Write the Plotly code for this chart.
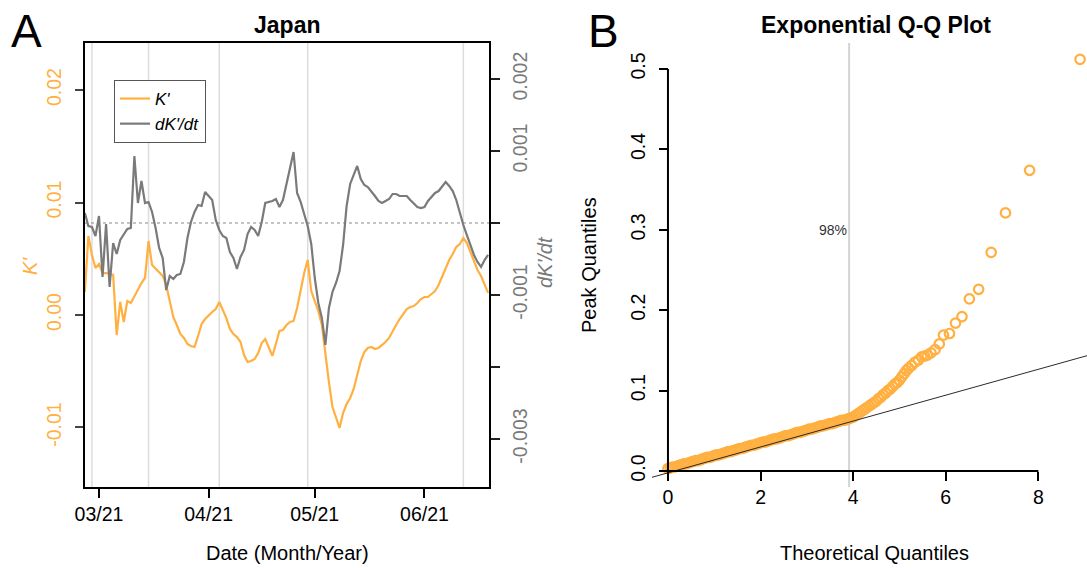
import pandas as pd
import plotly.graph_objects as go

W, H = 1087, 568
ORANGE = "#FFB040"
GRAY = "#7a7a7a"
FONT = "Liberation Sans, Arial, sans-serif"

# ---------------- Panel A: Japan, K' and dK'/dt (daily) ----------------
dates = pd.date_range("2021-02-25", "2021-06-19", freq="D")

k_prime = [
    0.00204, 0.00702, 0.00533, 0.00418, 0.00453, 0.00373, 0.00373, 0.00364, 0.00356, -0.00178,
    0.00116, -0.00062, 0.00124, 0.00107, 0.00169, 0.00222, 0.00284, 0.00329, 0.00658, 0.00444,
    0.00409, 0.00373, 0.00347, 0.00267, 0.00116, -0.00018, -0.00089, -0.00169, -0.00204, -0.00258,
    -0.00276, -0.00284, -0.00187, -0.00080, -0.00036, 0.00000, 0.00027, 0.00053, 0.00116, 0.00044,
    -0.00027, -0.00124, -0.00169, -0.00196, -0.00240, -0.00356, -0.00418, -0.00409, -0.00391, -0.00338,
    -0.00249, -0.00213, -0.00284, -0.00364, -0.00258, -0.00142, -0.00133, -0.00089, -0.00062, -0.00053,
    0.00062, 0.00213, 0.00373, 0.00489, 0.00213, 0.00124, 0.00036, -0.00089, -0.00356, -0.00596,
    -0.00818, -0.00916, -0.01004, -0.00871, -0.00791, -0.00738, -0.00658, -0.00533, -0.00409, -0.00329,
    -0.00293, -0.00284, -0.00302, -0.00293, -0.00267, -0.00240, -0.00204, -0.00142, -0.00089, -0.00036,
    0.00009, 0.00053, 0.00071, 0.00080, 0.00107, 0.00142, 0.00160, 0.00160, 0.00187, 0.00213,
    0.00267, 0.00347, 0.00427, 0.00489, 0.00542, 0.00604, 0.00631, 0.00684, 0.00640, 0.00560,
    0.00489, 0.00400, 0.00347, 0.00276, 0.00196,
]

dk_dt = [
    0.000139, -0.000042, -0.000056, -0.000181, 0.000097, -0.000750, -0.000014, -0.000889, -0.000278, -0.000431,
    -0.000236, -0.000153, -0.000083, -0.000069, 0.000931, 0.000278, 0.000583, 0.000278, 0.000292, 0.000153,
    -0.000069, -0.000347, -0.000486, -0.000931, -0.000736, -0.000778, -0.000722, -0.000708, -0.000542, -0.000208,
    0.000014, 0.000153, 0.000250, 0.000236, 0.000431, 0.000375, 0.000319, 0.000042, -0.000097, -0.000181,
    -0.000208, -0.000403, -0.000486, -0.000639, -0.000472, -0.000375, -0.000153, -0.000056, -0.000097, -0.000181,
    0.000014, 0.000278, 0.000292, 0.000306, 0.000333, 0.000222, 0.000319, 0.000528, 0.000764, 0.000986,
    0.000417, 0.000292, 0.000125, -0.000042, -0.000292, -0.000764, -0.001111, -0.001319, -0.001694, -0.001181,
    -0.000958, -0.000833, -0.000667, -0.000306, 0.000236, 0.000542, 0.000667, 0.000792, 0.000611, 0.000528,
    0.000500, 0.000444, 0.000375, 0.000306, 0.000278, 0.000306, 0.000333, 0.000403, 0.000403, 0.000375,
    0.000375, 0.000375, 0.000319, 0.000264, 0.000222, 0.000208, 0.000222, 0.000306, 0.000361, 0.000417,
    0.000444, 0.000500, 0.000569, 0.000514, 0.000444, 0.000319, 0.000139, -0.000028, -0.000167, -0.000319,
    -0.000444, -0.000542, -0.000611, -0.000514, -0.000444,
]

event_dates = ["2021-02-27", "2021-03-15", "2021-04-04", "2021-04-29", "2021-06-12"]
month_ticks = ["2021-03-01", "2021-04-01", "2021-05-01", "2021-06-01"]
month_labels = ["03/21", "04/21", "05/21", "06/21"]
date_range = ["2021-02-25 01:00", "2021-06-19 06:00"]

k_ticks = [-0.01, 0.0, 0.01, 0.02]
k_tick_labels = ["-0.01", "0.00", "0.01", "0.02"]
k_range = [-0.01529, 0.02418]

dk_ticks = [-0.003, -0.002, -0.001, 0.0, 0.001, 0.002]
dk_tick_labels = ["-0.003", "", "-0.001", "", "0.001", "0.002"]
dk_range = [-0.003667, 0.0025]

# ---------------- Panel B: exponential Q-Q plot ----------------
theo_q = [
    0.00, 0.05, 0.10, 0.15, 0.20, 0.25, 0.30, 0.35, 0.40, 0.45,
    0.50, 0.55, 0.60, 0.65, 0.70, 0.75, 0.80, 0.85, 0.90, 0.95,
    1.00, 1.05, 1.10, 1.15, 1.20, 1.25, 1.30, 1.35, 1.40, 1.45,
    1.50, 1.55, 1.60, 1.65, 1.70, 1.75, 1.80, 1.85, 1.90, 1.95,
    2.00, 2.05, 2.10, 2.15, 2.20, 2.25, 2.30, 2.35, 2.40, 2.45,
    2.50, 2.55, 2.60, 2.65, 2.70, 2.75, 2.80, 2.85, 2.90, 2.95,
    3.00, 3.05, 3.10, 3.15, 3.20, 3.25, 3.30, 3.35, 3.40, 3.45,
    3.50, 3.55, 3.60, 3.65, 3.70, 3.75, 3.80, 3.85, 3.90, 3.95,
    4.00, 4.05, 4.10, 4.15, 4.20, 4.25, 4.30, 4.35, 4.40, 4.45,
    4.50, 4.55, 4.60, 4.65, 4.70, 4.75, 4.80, 4.85, 4.90, 4.95,
    5.00, 5.05, 5.10, 5.15, 5.20, 5.26, 5.33, 5.41, 5.48, 5.54,
    5.60, 5.68, 5.77, 5.86, 5.95, 6.08, 6.21, 6.35, 6.51, 6.71,
    6.98, 7.29, 7.81, 8.90,
]
peak_q = [
    0.003, 0.004, 0.005, 0.005, 0.006, 0.007, 0.008, 0.009, 0.009, 0.010,
    0.011, 0.012, 0.013, 0.013, 0.014, 0.015, 0.016, 0.017, 0.017, 0.018,
    0.019, 0.020, 0.020, 0.021, 0.022, 0.023, 0.024, 0.024, 0.025, 0.026,
    0.027, 0.028, 0.028, 0.029, 0.030, 0.031, 0.032, 0.032, 0.033, 0.034,
    0.035, 0.036, 0.036, 0.037, 0.038, 0.039, 0.040, 0.040, 0.041, 0.042,
    0.043, 0.044, 0.044, 0.045, 0.046, 0.047, 0.048, 0.048, 0.049, 0.050,
    0.051, 0.052, 0.052, 0.053, 0.054, 0.055, 0.056, 0.056, 0.057, 0.058,
    0.059, 0.059, 0.060, 0.061, 0.062, 0.063, 0.063, 0.064, 0.065, 0.066,
    0.067, 0.069, 0.071, 0.073, 0.075, 0.077, 0.079, 0.081, 0.083, 0.085,
    0.087, 0.090, 0.092, 0.095, 0.097, 0.100, 0.102, 0.105, 0.108, 0.110,
    0.113, 0.117, 0.121, 0.125, 0.128, 0.131, 0.135, 0.138, 0.142, 0.143,
    0.144, 0.147, 0.151, 0.158, 0.169, 0.171, 0.184, 0.192, 0.214, 0.226,
    0.272, 0.321, 0.374, 0.512,
]

q98 = 3.912          # 98th percentile of the unit exponential
qq_intercept = -0.0023
qq_slope = 0.0161
qq_xrange = [-0.345, 9.05]
qq_yrange = [-0.0199, 0.5323]
qq_xticks = [0, 2, 4, 6, 8]
qq_yticks = [0.0, 0.1, 0.2, 0.3, 0.4, 0.5]
qq_ytick_labels = ["0.0", "0.1", "0.2", "0.3", "0.4", "0.5"]


def fx(px):
    return px / W


def fy(py):
    return 1 - py / H


fig = go.Figure()

fig.add_trace(go.Scatter(
    x=dates, y=k_prime, mode="lines", name="<i>K'</i>",
    line=dict(color=ORANGE, width=2.2), xaxis="x", yaxis="y",
))
fig.add_trace(go.Scatter(
    x=dates, y=dk_dt, mode="lines", name="<i>dK'/dt</i>",
    line=dict(color=GRAY, width=2.2), xaxis="x", yaxis="y2",
))
fig.add_trace(go.Scatter(
    x=theo_q, y=peak_q, mode="markers", showlegend=False,
    marker=dict(symbol="circle-open", size=9.5, color=ORANGE, line=dict(width=2.2)),
    xaxis="x3", yaxis="y3",
))
qq_line_y = [qq_intercept + qq_slope * v for v in qq_xrange]
fig.add_trace(go.Scatter(
    x=qq_xrange, y=qq_line_y, mode="lines", showlegend=False,
    line=dict(color="#2a2a2a", width=1), xaxis="x3", yaxis="y3",
))

shapes = []
for d in event_dates:
    shapes.append(dict(type="line", xref="x", yref="y domain", x0=d, x1=d, y0=0, y1=1,
                       line=dict(color="#dcdcdc", width=1.5), layer="below"))
shapes.append(dict(type="line", xref="x domain", yref="y2", x0=0, x1=1, y0=0, y1=0,
                   line=dict(color="#8a8a8a", width=1.2, dash="dot"), layer="below"))
shapes.append(dict(type="line", xref="x3", yref="y3 domain", x0=q98, x1=q98, y0=0, y1=1,
                   line=dict(color="#d4d4d4", width=2), layer="below"))
shapes.append(dict(type="line", xref="x3", yref="y3", x0=qq_xticks[0], x1=qq_xticks[-1], y0=0, y1=0,
                   line=dict(color="black", width=2)))
shapes.append(dict(type="line", xref="x3", yref="y3", x0=0, x1=0, y0=qq_yticks[0], y1=qq_yticks[-1],
                   line=dict(color="black", width=2)))

annotations = [
    dict(text="<b>Japan</b>", x=fx(287), y=fy(25), font=dict(size=23)),
    dict(text="<b>Exponential Q-Q Plot</b>", x=fx(876), y=fy(25), font=dict(size=23)),
    dict(text="A", x=fx(26), y=fy(31), font=dict(size=46)),
    dict(text="B", x=fx(603), y=fy(31), font=dict(size=46)),
    dict(text="Date (Month/Year)", x=fx(287), y=fy(553), font=dict(size=20)),
    dict(text="Theoretical Quantiles", x=fx(874), y=fy(553), font=dict(size=20)),
    dict(text="<i>K'</i>", x=fx(30), y=fy(266), textangle=-90, font=dict(size=20, color=ORANGE)),
    dict(text="<i>dK'/dt</i>", x=fx(545), y=fy(262), textangle=-90, font=dict(size=20, color=GRAY)),
    dict(text="Peak Quantiles", x=fx(589), y=fy(265), textangle=-90, font=dict(size=20)),
]
for a in annotations:
    a.update(xref="paper", yref="paper", showarrow=False, xanchor="center", yanchor="middle")
annotations.append(dict(text="98%", x=3.9, y=0.3, xref="x3", yref="y3", showarrow=False,
                        xanchor="right", yanchor="middle", font=dict(size=14, color="#333333")))

axis_common = dict(showgrid=False, zeroline=False, ticks="outside", tickwidth=1.5, automargin=False)

fig.update_layout(
    width=W, height=H,
    margin=dict(l=0, r=0, t=0, b=0, autoexpand=False),
    paper_bgcolor="white", plot_bgcolor="white",
    font=dict(family=FONT, size=19.5, color="black"),
    showlegend=True,
    legend=dict(x=fx(114), y=fy(80), xanchor="left", yanchor="top",
                bordercolor="#555555", borderwidth=1, bgcolor="white",
                font=dict(size=17), itemwidth=30, tracegroupgap=0),
    xaxis=dict(domain=[fx(85), fx(489)], range=date_range, type="date", anchor="y",
               tickvals=month_ticks, ticktext=month_labels, ticklen=9, tickcolor="black",
               showline=True, mirror=True, linecolor="black", linewidth=2, **axis_common),
    yaxis=dict(domain=[fy(487), fy(43)], range=k_range, anchor="x",
               tickvals=k_ticks, ticktext=k_tick_labels, tickangle=-90, ticklen=8,
               tickcolor="#444444", tickfont=dict(color=ORANGE), ticklabelstandoff=6,
               showline=True, linecolor="black", linewidth=2, **axis_common),
    yaxis2=dict(overlaying="y", side="right", range=dk_range, anchor="x",
                tickvals=dk_ticks, ticktext=dk_tick_labels, tickangle=-90, ticklen=9,
                tickcolor="#222222", tickfont=dict(color=GRAY), ticklabelstandoff=4,
                showline=True, linecolor="black", linewidth=2, **axis_common),
    xaxis3=dict(domain=[fx(652), 1.0], range=qq_xrange, anchor="free", position=fy(471),
                tickvals=qq_xticks, ticklen=9, tickcolor="black", showline=False, **axis_common),
    yaxis3=dict(domain=[fy(487), fy(43)], range=qq_yrange, anchor="free", position=fx(668),
                tickvals=qq_yticks, ticktext=qq_ytick_labels, tickangle=-90, ticklen=9,
                tickcolor="black", ticklabelstandoff=6, showline=False, **axis_common),
    shapes=shapes,
    annotations=annotations,
)

fig.write_html("out.html")
